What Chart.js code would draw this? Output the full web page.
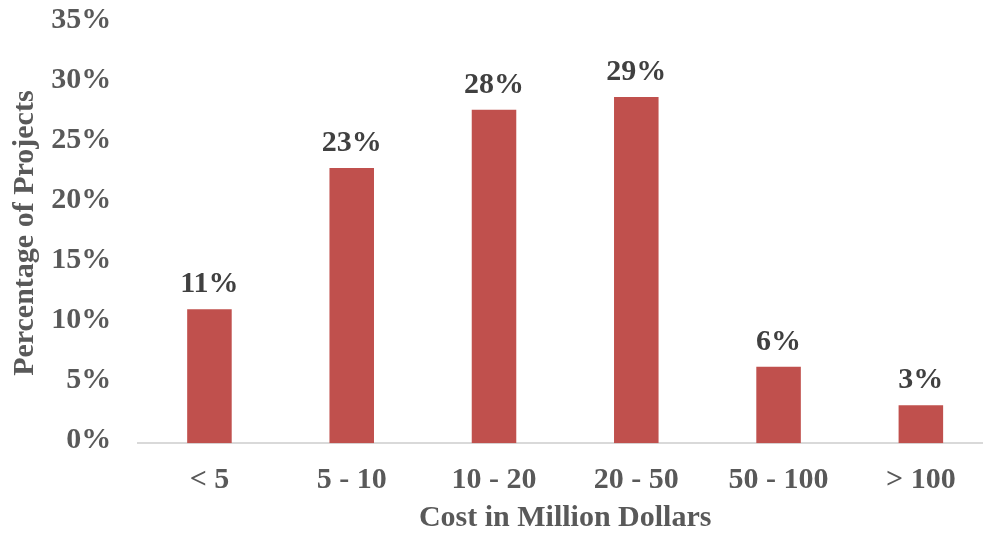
<!DOCTYPE html>
<html>
<head>
<meta charset="utf-8">
<script src="https://cdn.jsdelivr.net/npm/chart.js@4"></script>
<style>
  html, body { margin: 0; padding: 0; background: #fff; overflow: hidden; }
  #wrap { width: 992px; height: 536px; }
</style>
</head>
<body>
<div id="wrap"><canvas id="chart" width="992" height="536"></canvas></div>
<script>
// Chart data
const categories = ['< 5', '5 - 10', '10 - 20', '20 - 50', '50 - 100', '> 100'];
const shareOfProjects = [11.17, 22.92, 27.78, 28.83, 6.38, 3.17];
const yTicks = [0, 5, 10, 15, 20, 25, 30, 35];

const FONT = "'Liberation Serif', serif";
const FONT_SIZE = 30;
const AXIS_COLOR = '#595959';
const LABEL_COLOR = '#404040';

// draws the % value above each bar
const barLabels = {
  id: 'barLabels',
  afterDatasetsDraw(chart) {
    const ctx = chart.ctx;
    const meta = chart.getDatasetMeta(0);
    ctx.save();
    ctx.font = 'bold ' + FONT_SIZE + 'px ' + FONT;
    ctx.fillStyle = LABEL_COLOR;
    ctx.textAlign = 'center';
    ctx.textBaseline = 'alphabetic';
    meta.data.forEach((bar, i) => {
      const v = chart.data.datasets[0].data[i];
      ctx.fillText(Math.round(v) + '%', bar.x, bar.y - 17);
    });
    ctx.restore();
  }
};

const axisFont = { family: FONT, size: FONT_SIZE, weight: 'bold' };

new Chart(document.getElementById('chart'), {
  type: 'bar',
  data: {
    labels: categories,
    datasets: [{
      data: shareOfProjects,
      backgroundColor: '#C0504D',
      borderWidth: 0,
      categoryPercentage: 1,
      barPercentage: 0.313
    }]
  },
  options: {
    responsive: false,
    animation: false,
    layout: { padding: { top: 23, right: 0, bottom: 0, left: 0 } },
    plugins: {
      legend: { display: false },
      tooltip: { enabled: false }
    },
    scales: {
      x: {
        grid: { display: false, drawTicks: false },
        border: { display: true, color: '#D9D9D9', width: 2 },
        ticks: {
          color: AXIS_COLOR,
          font: axisFont,
          padding: 19,
          maxRotation: 0
        },
        title: {
          display: true,
          text: 'Cost in Million Dollars',
          color: AXIS_COLOR,
          font: axisFont,
          padding: { top: 0, bottom: 0 }
        },
        afterFit(scale) {
          scale.height = 92.7;
          scale.paddingLeft = 0;
          scale.paddingRight = 0;
        }
      },
      y: {
        min: 0,
        max: 35,
        afterBuildTicks(scale) {
          scale.ticks = yTicks.map(v => ({ value: v }));
        },
        grid: { display: false, drawTicks: false },
        border: { display: false },
        ticks: {
          color: AXIS_COLOR,
          font: axisFont,
          padding: 27,
          labelOffset: -3,
          callback: v => v + '%'
        },
        title: {
          display: true,
          text: 'Percentage of Projects',
          color: AXIS_COLOR,
          font: axisFont,
          padding: { top: 7, bottom: 0 }
        },
        afterFit(scale) {
          scale.width = 138.3;
          scale.paddingTop = 0;
          scale.paddingBottom = 0;
        }
      }
    }
  },
  plugins: [barLabels]
});
</script>
</body>
</html>
